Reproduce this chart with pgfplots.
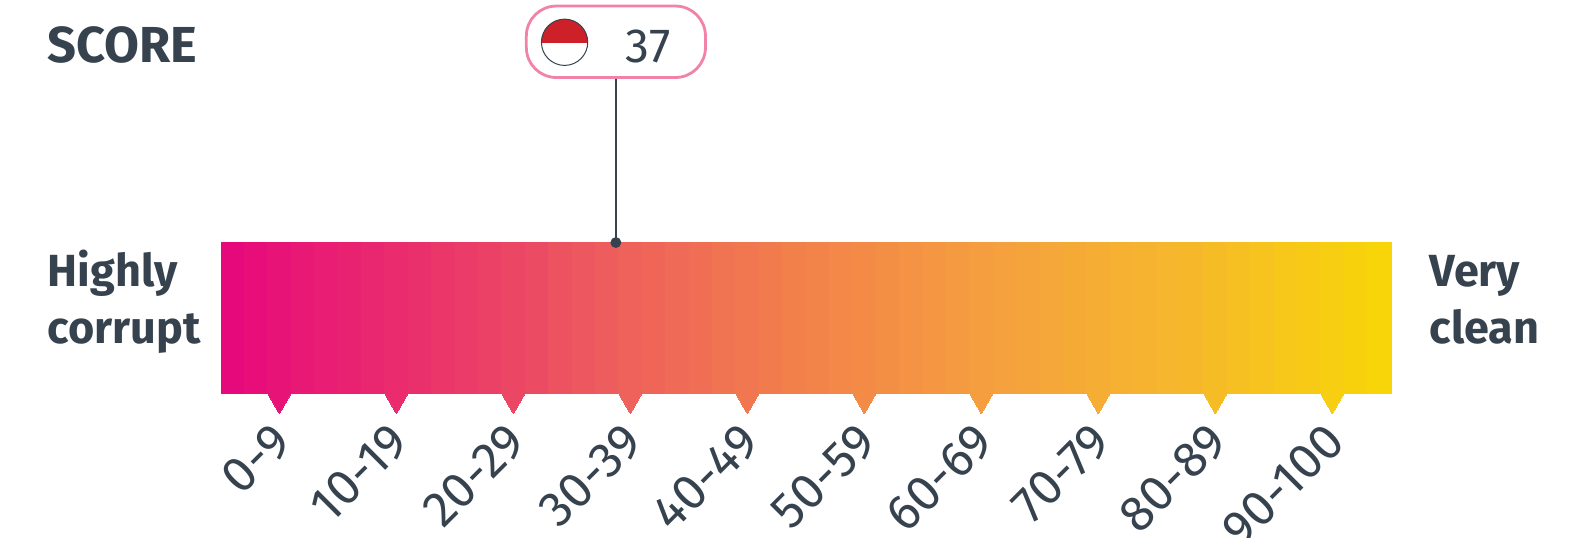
\documentclass[border=0pt]{standalone}
\usepackage{pgfplots}
\pgfplotsset{compat=1.18}
\usepackage{fontspec}
\setmainfont{Fira Sans}
\definecolor{ink}{HTML}{36434F}
\definecolor{pillpink}{HTML}{F283A8}
\definecolor{flagred}{HTML}{CE2028}
\begin{document}
\begin{tikzpicture}
% bar corner at the origin, page is 789 x 268.5pt
\useasboundingbox (-110.45pt,-71.75pt) rectangle (678.55pt,196.75pt);
\begin{axis}[
  at={(0,0)}, anchor=origin,
  scale only axis, width=584.96pt, height=75.48pt,
  xmin=0, xmax=100, ymin=0, ymax=1,
  clip=false,
  axis line style={draw=none},
  tick style={draw=none},
  ytick=\empty,
  xtick={5,15,25,35,45,55,65,75,85,95},
  xticklabels={0-9,10-19,20-29,30-39,40-49,50-59,60-69,70-79,80-89,90-100},
  x tick label style={font=\fontsize{25}{25}\selectfont, text=ink, rotate=45, anchor=north east, yshift=-2.7pt, xshift=-9.3pt},
  colormap={cpi}{rgb255=(230,7,124) rgb255=(234,47,108) rgb255=(238,94,93) rgb255=(242,130,74) rgb255=(245,161,62) rgb255=(246,185,42) rgb255=(248,215,6)},
  point meta min=0, point meta max=100,
]
% gradient bar
\addplot[surf, shader=faceted, faceted color=mapped color, line width=0.3pt, mesh/rows=2, point meta=x] coordinates {
(0,0)(2,0)(4,0)(6,0)(8,0)(10,0)(12,0)(14,0)(16,0)(18,0)(20,0)(22,0)(24,0)(26,0)(28,0)(30,0)(32,0)
(34,0)(36,0)(38,0)(40,0)(42,0)(44,0)(46,0)(48,0)(50,0)(52,0)(54,0)(56,0)(58,0)(60,0)(62,0)(64,0)(66,0)
(68,0)(70,0)(72,0)(74,0)(76,0)(78,0)(80,0)(82,0)(84,0)(86,0)(88,0)(90,0)(92,0)(94,0)(96,0)(98,0)(100,0)

(0,1)(2,1)(4,1)(6,1)(8,1)(10,1)(12,1)(14,1)(16,1)(18,1)(20,1)(22,1)(24,1)(26,1)(28,1)(30,1)(32,1)
(34,1)(36,1)(38,1)(40,1)(42,1)(44,1)(46,1)(48,1)(50,1)(52,1)(54,1)(56,1)(58,1)(60,1)(62,1)(64,1)(66,1)
(68,1)(70,1)(72,1)(74,1)(76,1)(78,1)(80,1)(82,1)(84,1)(86,1)(88,1)(90,1)(92,1)(94,1)(96,1)(98,1)(100,1)
};
% pointers under the bar
\addplot[scatter, only marks, mark=triangle*, mark size=6.97pt, point meta=x,
  scatter/use mapped color={fill=mapped color, draw=mapped color},
  mark options={rotate=180, draw=mapped color, fill=mapped color, line width=0pt}] table {
x y
5 -0.041
15 -0.041
25 -0.041
35 -0.041
45 -0.041
55 -0.041
65 -0.041
75 -0.041
85 -0.041
95 -0.041
};
% score pin
\addplot[ink, line width=1.2pt, mark=none] coordinates {(33.76,1) (33.76,2.09)};
\addplot[only marks, mark=*, mark size=2.5pt, color=ink] coordinates {(33.76,1)};
\end{axis}
% annotations, coordinates measured off the reference
\begin{scope}[shift={(-110.45pt,196.75pt)}, x=0.50319pt, y=-0.50319pt]
\draw[pillpink, line width=1.4pt, fill=white, rounded corners=15pt] (523,6) rectangle (701,77);
\fill[white] (561,42) circle (23);
\begin{scope}
\clip (530,15) rectangle (592,42);
\fill[flagred] (561,42) circle (23);
\end{scope}
\draw[ink, line width=0.5pt] (561,42) circle (23);
\node[anchor=base, text=ink, font=\fontsize{24}{24}\selectfont, inner sep=0pt] at (644,62) {37};
\node[anchor=base west, text=ink, font=\bfseries\fontsize{25.3}{25.3}\selectfont, inner sep=0pt] at (47,62) {SCORE};
\node[anchor=base west, text=ink, font=\bfseries\fontsize{22.5}{22.5}\selectfont, inner sep=0pt] at (47,285) {Highly};
\node[anchor=base west, text=ink, font=\bfseries\fontsize{22.5}{22.5}\selectfont, inner sep=0pt] at (47,341) {corrupt};
\node[anchor=base west, text=ink, font=\bfseries\fontsize{22.5}{22.5}\selectfont, inner sep=0pt] at (1420,285) {Very};
\node[anchor=base west, text=ink, font=\bfseries\fontsize{22.5}{22.5}\selectfont, inner sep=0pt] at (1420,341) {clean};
\end{scope}
\end{tikzpicture}
\end{document}
